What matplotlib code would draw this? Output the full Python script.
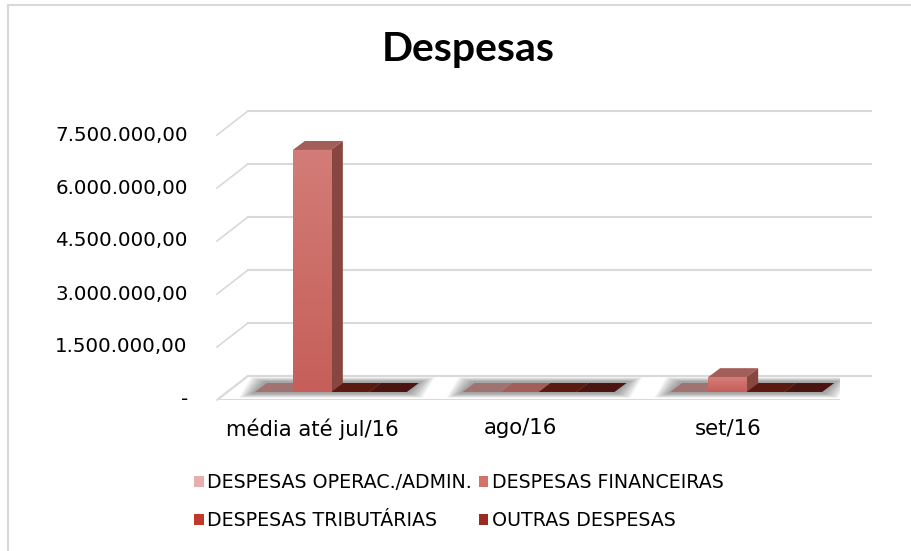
import numpy as np
import matplotlib
matplotlib.use("Agg")
import matplotlib.pyplot as plt
from matplotlib.patches import Polygon, Rectangle
from matplotlib.colors import to_rgb

# data
categories = ["média até jul/16", "ago/16", "set/16"]
series = ["DESPESAS OPERAC./ADMIN.", "DESPESAS FINANCEIRAS",
          "DESPESAS TRIBUTÁRIAS", "OUTRAS DESPESAS"]
operac = [0, 0, 0]
financeiras = [6850000, 0, 420000]
tributarias = [0, 0, 0]
outras = [0, 0, 0]
values = [operac, financeiras, tributarias, outras]
yticks = [0, 1500000, 3000000, 4500000, 6000000, 7500000]

legend_cols = ["#E6AFAF", "#D4716B", "#C0392B", "#9B2B22"]
front_cols = ["#E6AFAF", "#C65F59", "#C0392B", "#962B22"]
top_cols = ["#A07272", "#A35E59", "#5A1A12", "#4A1510"]
side_cols = ["#9C7070", "#87463F", "#6E1E16", "#5A1710"]

W, H = 912, 551
fig = plt.figure(figsize=(W / 100, H / 100), dpi=100)

# front plane of the 3d box (pixels)
left, right, base, top = 217, 840, 400, 135
ax = fig.add_axes([left / W, 1 - base / H, (right - left) / W, (base - top) / H])
ax.axis("off")

# pixel -> data scale for the depth offsets
px_x = (right - left) / 3.0
px_y = (base - top) / 7500000.0
def off(dx, dy):
    return dx / px_x, dy / px_y

wall_dx, wall_dy = off(31, 24)
f_dx, f_dy = off(10, 8)
b_dx, b_dy = off(22, 17)

grid_c = "#D9D9D9"
# floor
floor = Polygon([(-0.5, 0), (2.5, 0), (2.5 + wall_dx, wall_dy), (-0.5 + wall_dx, wall_dy)],
                closed=True, facecolor="white", edgecolor=grid_c, lw=1.5, zorder=1)
ax.add_patch(floor)
# back wall grid + side wall diagonals
for t in yticks:
    ax.plot([-0.5 + wall_dx, 2.5 + wall_dx], [t + wall_dy, t + wall_dy], color=grid_c, lw=1.5,
            zorder=0.5, clip_on=False)
    ax.plot([-0.5, -0.5 + wall_dx], [t, t + wall_dy], color=grid_c, lw=1.2, zorder=0.5, clip_on=False)

bw = 0.183
gstart = -0.5 * 4 * bw
ddx, ddy = b_dx - f_dx, b_dy - f_dy

for i in range(len(categories)):
    x_left = i + gstart + f_dx
    x_right = i + gstart + 4 * bw + f_dx
    # soft gray shadow around the group on the floor
    for k in range(8):
        grow = 0.012 + k * 0.009
        pad_y = (1.5 + k * 0.6) / px_y
        shp = Polygon([(x_left - grow, f_dy - pad_y), (x_right + grow, f_dy - pad_y),
                       (x_right + ddx + grow, b_dy + pad_y),
                       (x_left + ddx - grow, b_dy + pad_y)],
                      closed=True, facecolor="#3A3A3A", edgecolor="none", alpha=0.07, zorder=2)
        ax.add_patch(shp)
    for j in range(len(series)):
        h = values[j][i]
        x0 = i + gstart + j * bw + f_dx
        x1 = x0 + bw
        y0 = f_dy
        topface = Polygon([(x0, y0 + h), (x1, y0 + h), (x1 + ddx, y0 + h + ddy), (x0 + ddx, y0 + h + ddy)],
                          closed=True, facecolor=top_cols[j], edgecolor="none", zorder=4)
        ax.add_patch(topface)
        if h > 0:
            side = Polygon([(x1, y0), (x1 + ddx, y0 + ddy), (x1 + ddx, y0 + h + ddy), (x1, y0 + h)],
                           closed=True, facecolor=side_cols[j], edgecolor="none", zorder=4)
            ax.add_patch(side)
            front = Rectangle((x0, y0), bw, h, facecolor=front_cols[j], edgecolor="none", zorder=5)
            ax.add_patch(front)
            grad = np.linspace(0, 1, 64).reshape(-1, 1)
            c0 = np.array(to_rgb(front_cols[j]))
            c1 = np.array(to_rgb("#D37C77"))
            img = c0[None, None, :] * (1 - grad[..., None]) + c1[None, None, :] * grad[..., None]
            im = ax.imshow(img, extent=(x0, x1, y0, y0 + h), origin="lower", aspect="auto", zorder=5)
            im.set_clip_path(front)

ax.set_xlim(-0.5, 2.5)
ax.set_ylim(0, 7500000)

# tick labels
def fmt(v):
    if v == 0:
        return "-"
    s = f"{v:,.2f}"
    return s.replace(",", "X").replace(".", ",").replace("X", ".")

for t in yticks:
    ax.annotate(fmt(t), (-0.5, t), xytext=(-21, 0), textcoords="offset points",
                ha="right", va="center", family="DejaVu Sans", fontsize=14.3)
for i, c in enumerate(categories):
    ax.annotate(c, (i - 0.04, 0), xytext=(0, -13), textcoords="offset points",
                ha="center", va="top", family="DejaVu Sans", fontsize=15.3)

fig.text(468 / W, 1 - 50 / H, "Despesas", ha="center", va="center",
         family="Lato", fontweight="bold", fontsize=29.5)

# legend fills row by row in the picture
order = [0, 2, 1, 3]
handles = [Rectangle((0, 0), 1, 1, facecolor=legend_cols[k], edgecolor="none") for k in order]
fig.legend(handles, [series[k] for k in order], loc="upper left",
           bbox_to_anchor=(177 / W, 1 - 456 / H), ncol=2,
           frameon=False, handlelength=0.5, handleheight=0.5, handletextpad=0.2,
           columnspacing=0.35, labelspacing=1.0, prop=dict(family="DejaVu Sans", size=13.7))

# outer chart border
fig.patches.append(Rectangle((8 / W, -0.1), 1.2, 1 - 5 / H + 0.1, transform=fig.transFigure,
                             facecolor="none", edgecolor="#D9D9D9", lw=1.5))

fig.savefig("out.png", dpi=100)
